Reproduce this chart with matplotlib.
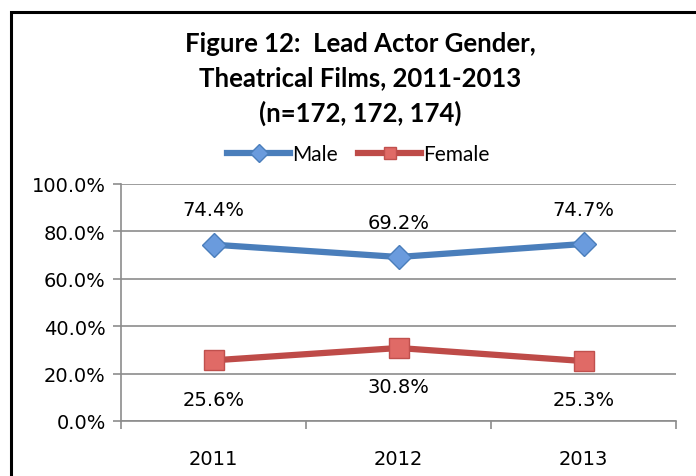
import matplotlib
matplotlib.use("Agg")
from matplotlib import pyplot as plt
from matplotlib.patches import Rectangle
from matplotlib.ticker import FuncFormatter
import numpy as np

years = ["2011", "2012", "2013"]
male = [74.4, 69.2, 74.7]
female = [25.6, 30.8, 25.3]
title = "Figure 12:  Lead Actor Gender,\nTheatrical Films, 2011-2013\n(n=172, 172, 174)"

fig = plt.figure(figsize=(6.96, 4.77), dpi=100)
ax = fig.add_axes([121 / 696, 1 - 422 / 477, (676 - 121) / 696, (422 - 185) / 477])

# outer frame of the chart
fig.patches.append(Rectangle((11 / 696, -0.2), 1.2, 1 - 13 / 477 + 0.2,
                             transform=fig.transFigure, fill=False,
                             edgecolor="black", linewidth=2.2))

x = np.arange(len(years))
ax.plot(x, male, color="#4A7EBB", lw=4.5, marker="D", ms=12,
        mfc="#6A9BDD", mec="#4A7EBB", mew=1, label="Male", zorder=3)
ax.plot(x, female, color="#BE4B48", lw=4.5, marker="s", ms=14,
        mfc="#E06A66", mec="#C0504D", mew=1, label="Female", zorder=3)

for i, v in enumerate(male):
    ax.annotate("%.1f%%" % v, (x[i], v), xytext=(0, 25), textcoords="offset points",
                ha="center", va="center", fontsize=14, family="DejaVu Sans")
for i, v in enumerate(female):
    ax.annotate("%.1f%%" % v, (x[i], v), xytext=(0, -28), textcoords="offset points",
                ha="center", va="center", fontsize=14, family="DejaVu Sans")

ax.set_xlim(-0.5, 2.5)
ax.set_ylim(0, 100)
ax.set_yticks(np.arange(0, 101, 20))
ax.yaxis.set_major_formatter(FuncFormatter(lambda v, p: "%.1f%%" % v))
ax.grid(axis="y", color="#8C8C8C", lw=1.2)
ax.set_axisbelow(True)
ax.set_xticks(x)
ax.set_xticklabels(years)
ax.set_xticks([-0.5, 0.5, 1.5, 2.5], minor=True)
ax.tick_params(axis="x", which="major", length=0, pad=20, labelsize=14)
ax.tick_params(axis="x", which="minor", length=6, color="#8C8C8C", width=1.2)
ax.tick_params(axis="y", length=6, color="#8C8C8C", width=1.2, labelsize=14, pad=5)
for s in ["top", "right"]:
    ax.spines[s].set_visible(False)
for s in ["left", "bottom"]:
    ax.spines[s].set_color("#8C8C8C")
    ax.spines[s].set_linewidth(1.2)

fig.text(0.518, 1 - 79 / 477, title, ha="center", va="center", fontsize=18.5,
         fontweight="bold", family="Lato", linespacing=1.5)

leg = fig.legend(loc="center", bbox_to_anchor=(0.515, 1 - 155 / 477), ncol=2,
                 frameon=False, prop={"family": "Lato", "size": 15},
                 handlelength=3.0, columnspacing=1.0, handletextpad=0.1)
for line in leg.get_lines():
    line.set_markersize(9)

fig.savefig("out.png", dpi=100)
